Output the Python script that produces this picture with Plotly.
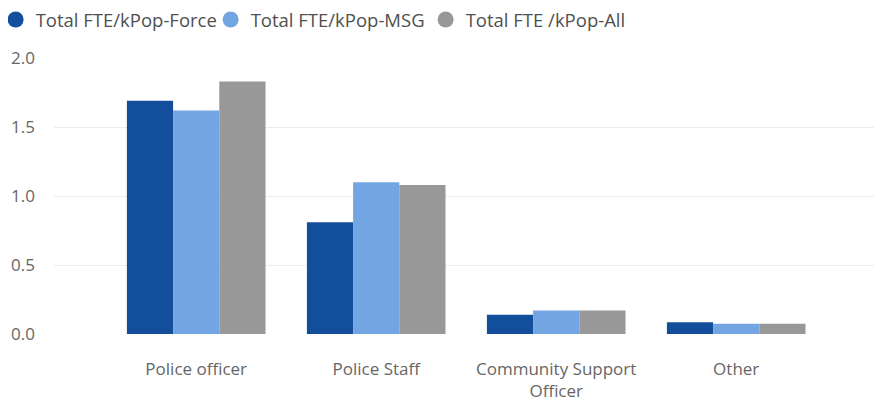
import plotly.graph_objects as go

categories = ["Police officer", "Police Staff", "Community Support<br>Officer", "Other"]
series_names = ["Total FTE/kPop-Force", "Total FTE/kPop-MSG", "Total FTE /kPop-All"]
force_values = [1.69, 0.81, 0.14, 0.085]
msg_values = [1.62, 1.10, 0.17, 0.075]
all_values = [1.83, 1.08, 0.17, 0.075]
y_ticks = [0.0, 0.5, 1.0, 1.5, 2.0]
colors = ["#134E9C", "#74A5E3", "#989898"]

fig = go.Figure()
for name, vals, col in zip(series_names, [force_values, msg_values, all_values], colors):
    fig.add_trace(go.Bar(x=categories, y=vals, name=name, marker=dict(color=col, line=dict(width=0)),
                         showlegend=False, legendgroup=name))
    fig.add_trace(go.Scatter(x=[None], y=[None], mode="markers", name=name, legendgroup=name,
                             marker=dict(symbol="circle", size=16, color=col), showlegend=True))

font_family = "Open Sans, Noto Sans, sans-serif"
fig.update_layout(
    width=882, height=403,
    margin=dict(l=46, r=8, t=50, b=77, autoexpand=False),
    paper_bgcolor="white", plot_bgcolor="white",
    barmode="group", bargap=0.23, bargroupgap=0,
    font=dict(family=font_family, color="#666666", size=17),
    legend=dict(orientation="h", x=-0.0705, xanchor="left",
                y=1.2065, yanchor="top",
                bgcolor="rgba(0,0,0,0)", font=dict(size=18.5, color="#505050"),
                itemwidth=30, entrywidth=170, traceorder="normal", tracegroupgap=0),
    xaxis=dict(range=[-0.79, 3.81], showgrid=False, zeroline=False, showline=False,
               tickfont=dict(size=17, color="#666666"), ticks="", ticklabelstandoff=23),
    yaxis=dict(range=[0, 2.0], tickvals=y_ticks, tickformat=".1f", showgrid=True,
               gridcolor="#EDEDED", gridwidth=1, zeroline=False, showline=False,
               tickfont=dict(size=17, color="#666666"), ticks="", ticklabelstandoff=18),
)
fig.write_html("out.html")
